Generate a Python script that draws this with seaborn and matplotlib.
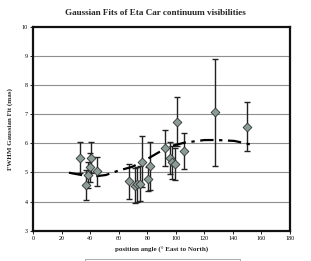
import matplotlib
matplotlib.use("Agg")
import matplotlib.pyplot as plt
import seaborn as sns
import pandas as pd
from matplotlib.patches import Rectangle

# Data
pa = [33.0, 36.8, 38.3, 39.5, 40.6, 44.5, 67.0, 71.2, 73.0, 74.8, 76.3,
      80.5, 81.6, 92.2, 96.0, 97.5, 99.5, 100.8, 105.8, 127.5, 149.8]
fwhm = [5.51, 4.57, 4.92, 5.17, 5.51, 5.04, 4.69, 4.54, 4.60, 4.61, 5.37,
        4.77, 5.22, 5.85, 5.49, 5.34, 5.29, 6.74, 5.74, 7.06, 6.57]
err = [0.54, 0.50, 0.45, 0.50, 0.53, 0.50, 0.61, 0.60, 0.60, 0.60, 0.88,
       0.42, 0.82, 0.62, 0.56, 0.55, 0.54, 0.85, 0.61, 1.84, 0.83]

fit_pa = [25, 40.4, 50.8, 59.6, 69.3, 78.5, 86.6, 94.7, 106, 120, 129, 141, 154]
fit_fwhm = [4.99, 4.85, 4.91, 5.06, 5.19, 5.42, 5.65, 5.88, 6.02, 6.11, 6.11, 6.08, 5.94]

xticks = [0, 20, 40, 60, 80, 100, 120, 140, 160, 180]
yticks = [3, 4, 5, 6, 7, 8, 9, 10]

title = "Gaussian Fits of Eta Car continuum visibilities"
xlabel = "position angle (\u00b0 East to North)"
ylabel = "FWHM Gaussian Fit (mas)"

sns.set_theme(style="white")
plt.rcParams['font.family'] = ['Liberation Serif', 'DejaVu Serif']

df = pd.DataFrame({"pa": pa, "fwhm": fwhm, "err": err})
fit = pd.DataFrame({"pa": fit_pa, "fwhm": fit_fwhm})

fig = plt.figure(figsize=(3.11, 2.61), dpi=100)
ax = fig.add_axes([0.107, 0.116, 0.8255, 0.782])

for y in yticks[1:-1]:
    ax.axhline(y, color="#8f8f8f", lw=0.8, zorder=0)

ax.errorbar(df["pa"], df["fwhm"], yerr=df["err"], fmt="none",
            ecolor="#222222", elinewidth=1.0, capsize=2, capthick=1.0, zorder=2)
sns.lineplot(data=fit, x="pa", y="fwhm", ax=ax, color="black", lw=1.6,
             linestyle=(0, (6, 2.5, 1.5, 2.5)), zorder=3)
sns.scatterplot(data=df, x="pa", y="fwhm", ax=ax, marker="D", s=20,
                color="#8a9c98", edgecolor="#333333", linewidth=0.6, zorder=4)

ax.set_xlim(0, 180)
ax.set_ylim(3, 10)
ax.set_xticks(xticks)
ax.set_yticks(yticks)
ax.tick_params(axis="both", labelsize=4.3, length=2, width=0.6, pad=2,
               colors="black", bottom=True, left=True)
for s in ax.spines.values():
    s.set_color("#111111")
    s.set_linewidth(1.6)

ax.set_xlabel(xlabel, fontsize=5, fontweight="bold", labelpad=4)
ax.set_ylabel(ylabel, fontsize=5, fontweight="bold", labelpad=6)
fig.suptitle(title, x=0.5, y=0.965, fontsize=6.6, fontweight="bold")

fig.patches.append(Rectangle((85 / 311, -0.2), 155 / 311, 0.2 + (1 - 259.3 / 261),
                             transform=fig.transFigure, fill=False,
                             edgecolor="#aaaaaa", lw=0.7))

fig.savefig("out.png", dpi=100)
